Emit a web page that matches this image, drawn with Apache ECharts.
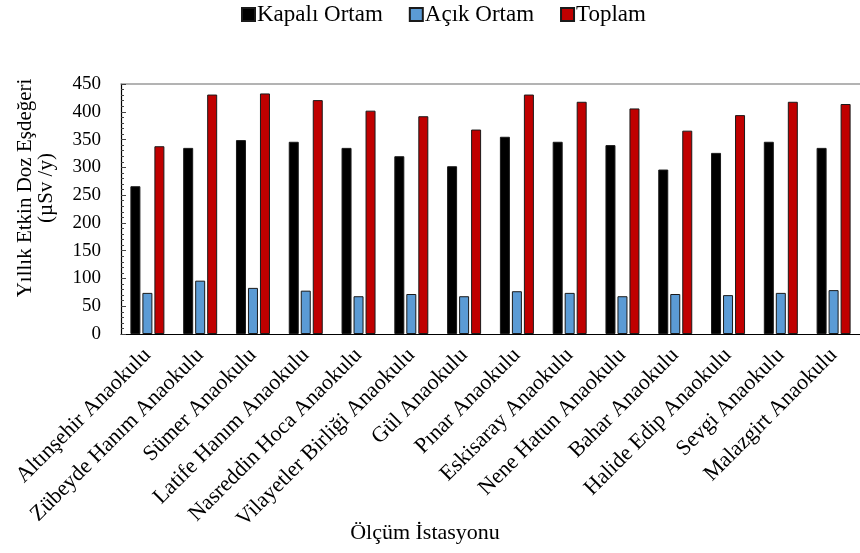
<!DOCTYPE html>
<html>
<head>
<meta charset="utf-8">
<script src="https://cdn.jsdelivr.net/npm/echarts@6/dist/echarts.min.js"></script>
<style>
  html, body { margin: 0; padding: 0; background: #fff; }
  #chart { width: 860px; height: 553px; }
</style>
</head>
<body>
<div id="chart"></div>
<script>
// Measurement stations (kindergartens)
const stations = [
  'Altınşehir Anaokulu', 'Zübeyde Hanım Anaokulu', 'Sümer Anaokulu',
  'Latife Hanım Anaokulu', 'Nasreddin Hoca Anaokulu', 'Vilayetler Birliği Anaokulu',
  'Gül Anaokulu', 'Pınar Anaokulu', 'Eskisaray Anaokulu', 'Nene Hatun Anaokulu',
  'Bahar Anaokulu', 'Halide Edip Anaokulu', 'Sevgi Anaokulu', 'Malazgirt Anaokulu'
];

// Annual effective dose equivalent (µSv/y)
const indoor  = [266, 335, 349, 346, 335, 320, 302, 355, 346, 340, 296, 326, 346, 335];
const outdoor = [74, 96, 83, 78, 68, 72, 68, 77, 74, 68, 72, 70, 74, 79];
const total   = [338, 431, 433, 421, 402, 392, 368, 431, 418, 406, 366, 394, 418, 414];

const seriesNames = ['Kapalı Ortam', 'Açık Ortam', 'Toplam'];
const yTicks = { min: 0, max: 450, step: 50 };

const FONT = "'Liberation Serif', 'Times New Roman', serif";
const chart = echarts.init(document.getElementById('chart'), null, { renderer: 'canvas' });

function barSeries(name, data, color) {
  return {
    name: name,
    type: 'bar',
    data: data,
    barWidth: 10,
    barGap: '20%',
    itemStyle: { color: color, borderColor: '#1a1a1a', borderWidth: 1 }
  };
}

chart.setOption({
  animation: false,
  backgroundColor: '#ffffff',
  textStyle: { fontFamily: FONT, color: '#000' },
  legend: {
    data: seriesNames,
    left: 236,
    top: -2,
    icon: 'rect',
    itemWidth: 13,
    itemHeight: 13,
    itemGap: 26,
    textStyle: { fontFamily: FONT, fontSize: 23, color: '#000', padding: [0, 0, 0, -3] }
  },
  grid: { left: 121, top: 84, width: 742, bottom: 219, containLabel: false },
  xAxis: [
    {
      type: 'category',
      data: stations,
      boundaryGap: true,
      axisLine: { lineStyle: { color: '#000', width: 1.2 } },
      axisTick: { show: true, alignWithLabel: true, inside: true, length: 5, lineStyle: { color: '#333' } },
      axisLabel: { interval: 0, rotate: 45, margin: 18, fontFamily: FONT, fontSize: 22, color: '#000' }
    },
    {
      type: 'category',
      position: 'top',
      data: stations,
      axisLine: { lineStyle: { color: '#9a9a9a', width: 1.5 } },
      axisTick: { show: false },
      axisLabel: { show: false }
    }
  ],
  yAxis: {
    type: 'value',
    min: yTicks.min,
    max: yTicks.max,
    interval: yTicks.step,
    axisLine: { show: true, lineStyle: { color: '#000', width: 1.2 } },
    axisTick: { show: true, inside: true, length: 5, lineStyle: { color: '#444' } },
    minorTick: { show: true, splitNumber: 5, length: 3, lineStyle: { color: '#444' } },
    splitLine: { show: false },
    axisLabel: { margin: 20, fontFamily: FONT, fontSize: 19, color: '#000' }
  },
  graphic: [
    {
      type: 'text',
      x: 36,
      y: 188,
      rotation: Math.PI / 2,
      style: {
        text: 'Yıllık Etkin Doz Eşdeğeri\n(µSv /y)',
        font: "21px 'Liberation Serif', serif",
        fill: '#000',
        align: 'center',
        verticalAlign: 'middle',
        lineHeight: 21
      }
    },
    {
      type: 'text',
      x: 425,
      y: 533,
      style: {
        text: 'Ölçüm İstasyonu',
        font: "22px 'Liberation Serif', serif",
        fill: '#000',
        align: 'center',
        verticalAlign: 'middle'
      }
    }
  ],
  series: [
    barSeries(seriesNames[0], indoor, '#000000'),
    barSeries(seriesNames[1], outdoor, '#5B9BD5'),
    barSeries(seriesNames[2], total, '#C00000')
  ]
});
</script>
</body>
</html>
